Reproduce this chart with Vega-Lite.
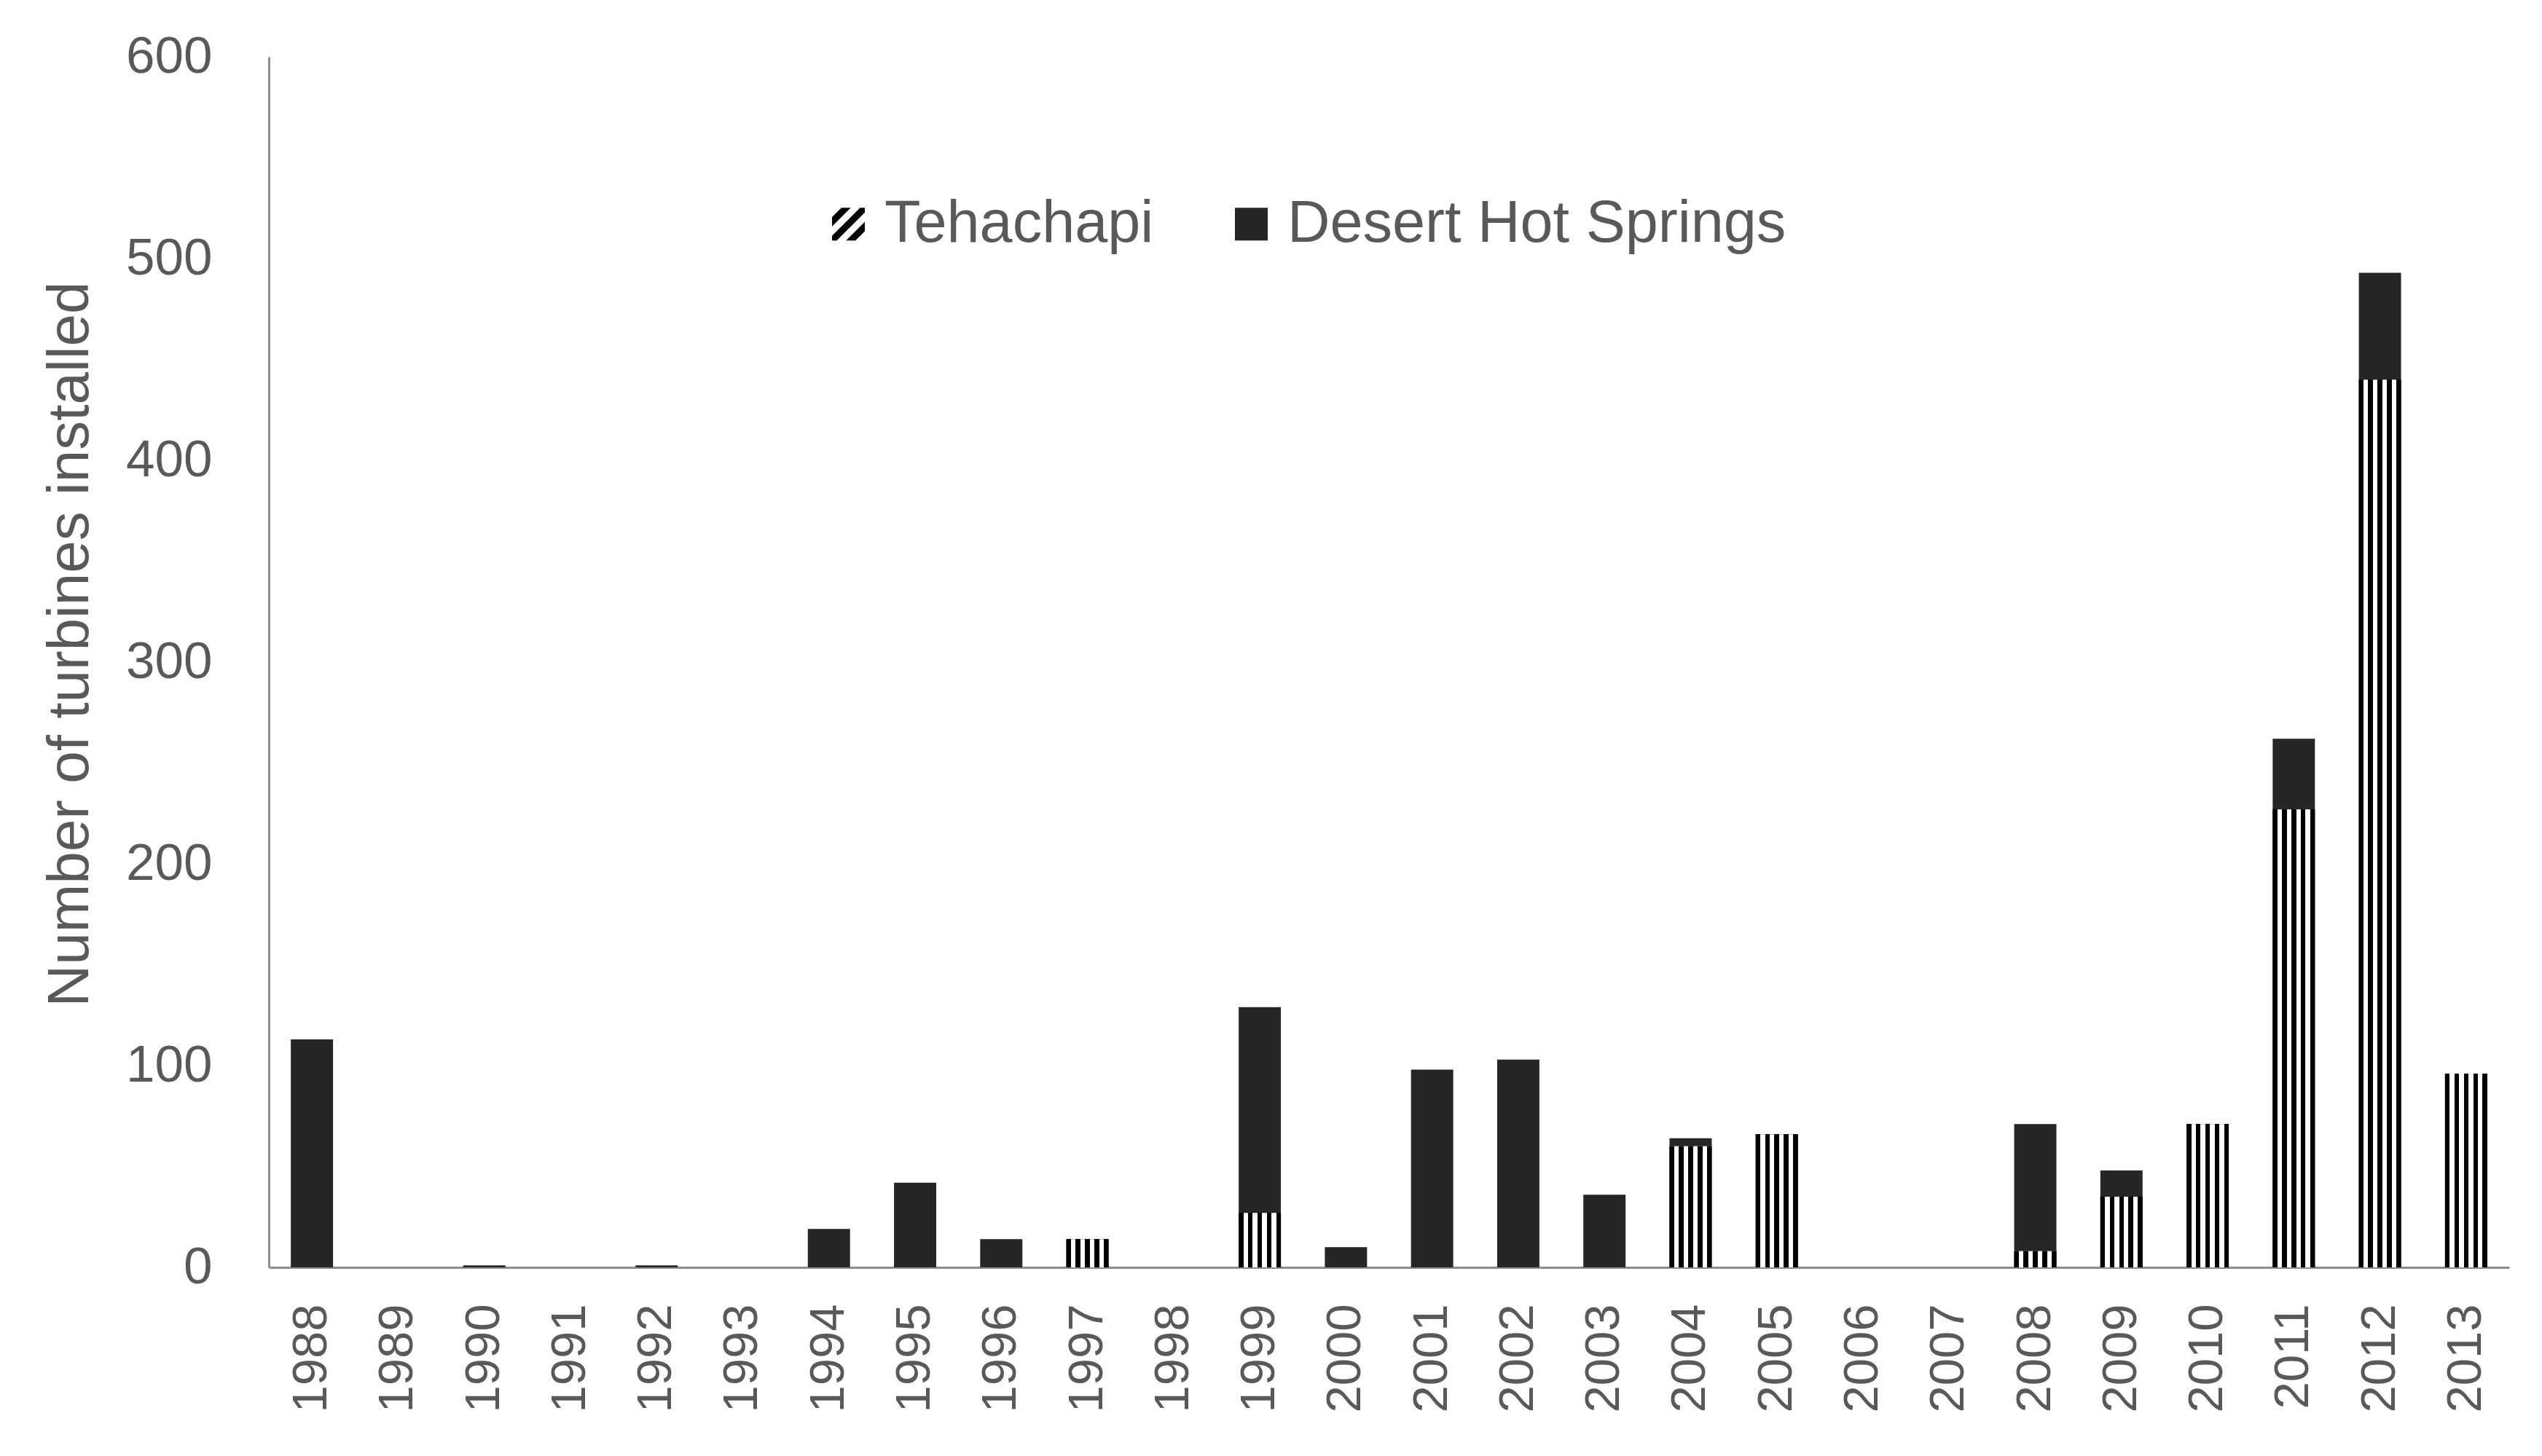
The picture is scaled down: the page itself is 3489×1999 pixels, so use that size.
{
  "$schema": "https://vega.github.io/schema/vega-lite/v6.json",
  "width": 3075,
  "height": 1662,
  "autosize": {"type": "none"},
  "padding": {"left": 369, "top": 78, "right": 45, "bottom": 259},
  "background": "white",
  "config": {
    "view": {"stroke": null},
    "font": "Liberation Sans",
    "legend": {
      "orient": "none",
      "legendX": 755,
      "legendY": 189,
      "direction": "horizontal",
      "symbolSize": 2025,
      "symbolStrokeWidth": 0,
      "labelFont": "Liberation Sans",
      "labelFontSize": 81,
      "labelColor": "#595959",
      "labelOffset": 9,
      "labelLimit": 0,
      "columnPadding": 93
    }
  },
  "data": {
    "values": [
      {"year": 1988, "site": "Desert Hot Springs", "count": 113},
      {"year": 1990, "site": "Desert Hot Springs", "count": 1},
      {"year": 1992, "site": "Desert Hot Springs", "count": 1},
      {"year": 1994, "site": "Desert Hot Springs", "count": 19},
      {"year": 1995, "site": "Desert Hot Springs", "count": 42},
      {"year": 1996, "site": "Desert Hot Springs", "count": 14},
      {"year": 1997, "site": "Tehachapi", "count": 14},
      {"year": 1999, "site": "Tehachapi", "count": 27},
      {"year": 1999, "site": "Desert Hot Springs", "count": 102},
      {"year": 2000, "site": "Desert Hot Springs", "count": 10},
      {"year": 2001, "site": "Desert Hot Springs", "count": 98},
      {"year": 2002, "site": "Desert Hot Springs", "count": 103},
      {"year": 2003, "site": "Desert Hot Springs", "count": 36},
      {"year": 2004, "site": "Tehachapi", "count": 60},
      {"year": 2004, "site": "Desert Hot Springs", "count": 4},
      {"year": 2005, "site": "Tehachapi", "count": 66},
      {"year": 2008, "site": "Tehachapi", "count": 8},
      {"year": 2008, "site": "Desert Hot Springs", "count": 63},
      {"year": 2009, "site": "Tehachapi", "count": 35},
      {"year": 2009, "site": "Desert Hot Springs", "count": 13},
      {"year": 2010, "site": "Tehachapi", "count": 71},
      {"year": 2011, "site": "Tehachapi", "count": 227},
      {"year": 2011, "site": "Desert Hot Springs", "count": 35},
      {"year": 2012, "site": "Tehachapi", "count": 440},
      {"year": 2012, "site": "Desert Hot Springs", "count": 53},
      {"year": 2013, "site": "Tehachapi", "count": 96}
    ]
  },
  "encoding": {
    "x": {
      "field": "year",
      "type": "ordinal",
      "scale": {
        "domain": [1988, 1989, 1990, 1991, 1992, 1993, 1994, 1995, 1996, 1997, 1998, 1999, 2000, 2001, 2002, 2003, 2004, 2005, 2006, 2007, 2008, 2009, 2010, 2011, 2012, 2013],
        "paddingInner": 0.51,
        "paddingOuter": 0.255
      },
      "axis": {
        "title": null,
        "labelAngle": -90,
        "labelFontSize": 67,
        "labelColor": "#595959",
        "labelPadding": 50,
        "ticks": false,
        "grid": false,
        "domainColor": "#8c8c8c",
        "domainWidth": 3
      }
    }
  },
  "layer": [
    {
      "mark": {"type": "bar"},
      "encoding": {
        "y": {
          "field": "count",
          "type": "quantitative",
          "stack": "zero",
          "scale": {"domain": [0, 600], "nice": false},
          "axis": {
            "title": "Number of turbines installed",
            "titleFont": "Liberation Sans",
            "titleFontSize": 80,
            "titleFontWeight": "normal",
            "titleColor": "#595959",
            "titlePadding": 35,
            "titleY": 806,
            "values": [0, 100, 200, 300, 400, 500, 600],
            "labelFontSize": 71,
            "labelColor": "#595959",
            "labelPadding": 78,
            "ticks": false,
            "grid": false,
            "domainColor": "#8c8c8c",
            "domainWidth": 3
          }
        },
        "color": {
          "field": "site",
          "type": "nominal",
          "title": null,
          "scale": {
            "domain": ["Tehachapi", "Desert Hot Springs"],
            "range": ["#000000", "#262626"]
          }
        },
        "order": {"field": "site", "sort": "descending"}
      }
    },
    {
      "transform": [{"filter": "datum.site === 'Tehachapi'"}],
      "mark": {
        "type": "bar",
        "fill": {
          "gradient": "linear",
          "x1": 0, "y1": 0, "x2": 1, "y2": 0,
          "stops": [
            {"offset": 0, "color": "#000000"},
            {"offset": 0.1111, "color": "#000000"},
            {"offset": 0.1111, "color": "#ffffff"},
            {"offset": 0.2222, "color": "#ffffff"},
            {"offset": 0.2222, "color": "#000000"},
            {"offset": 0.3333, "color": "#000000"},
            {"offset": 0.3333, "color": "#ffffff"},
            {"offset": 0.4444, "color": "#ffffff"},
            {"offset": 0.4444, "color": "#000000"},
            {"offset": 0.5556, "color": "#000000"},
            {"offset": 0.5556, "color": "#ffffff"},
            {"offset": 0.6667, "color": "#ffffff"},
            {"offset": 0.6667, "color": "#000000"},
            {"offset": 0.7778, "color": "#000000"},
            {"offset": 0.7778, "color": "#ffffff"},
            {"offset": 0.8889, "color": "#ffffff"},
            {"offset": 0.8889, "color": "#000000"},
            {"offset": 1, "color": "#000000"}
          ]
        }
      },
      "encoding": {
        "y": {"field": "count", "type": "quantitative", "stack": null}
      }
    },
    {
      "transform": [{"filter": "false"}],
      "mark": {"type": "point", "filled": true, "size": 2025, "opacity": 1},
      "encoding": {
        "y": {"field": "count", "type": "quantitative", "stack": null},
        "color": {
          "field": "site",
          "type": "nominal",
          "title": null,
          "scale": {
            "domain": ["Tehachapi", "Desert Hot Springs"],
            "range": ["#000000", "#262626"]
          }
        },
        "shape": {
          "field": "site",
          "type": "nominal",
          "title": null,
          "scale": {
            "domain": ["Tehachapi", "Desert Hot Springs"],
            "range": ["M-1,-0.429L-0.429,-1L0.143,-1L-1,0.143Z M-1,0.714L0.714,-1L1,-1L1,-0.714L-0.714,1L-1,1Z M-0.143,1L1,-0.143L1,0.429L0.429,1Z", "square"]
          }
        }
      }
    }
  ]
}
